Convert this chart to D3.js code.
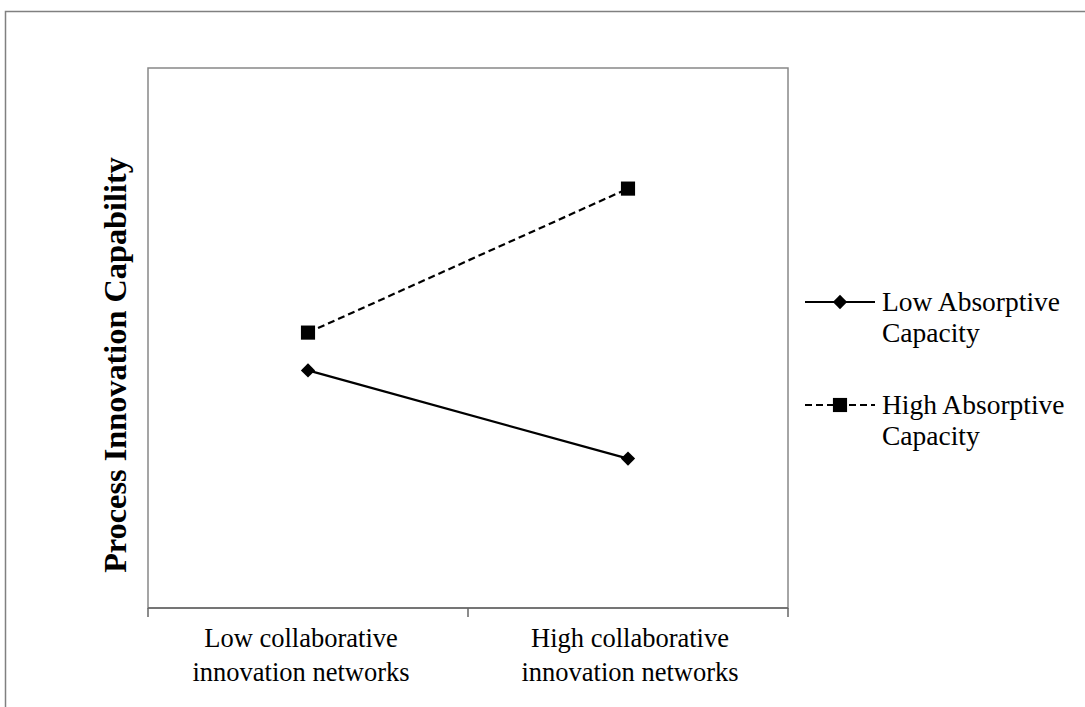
<!DOCTYPE html>
<html>
<head>
<meta charset="utf-8">
<script src="https://cdn.jsdelivr.net/npm/d3@7"></script>
<style>
  html, body { margin: 0; padding: 0; background: #fff; }
  svg { display: block; }
  text { font-family: "Liberation Serif", "Times New Roman", serif; fill: #000; }
</style>
</head>
<body>
<div id="chart"></div>
<script>
// categories on the x axis (each label is two lines)
const categories = ["low", "high"];
const categoryLabels = [
    ["Low collaborative", "innovation networks"],
    ["High collaborative", "innovation networks"]
];
// series values (no y ticks in the original, arbitrary units)
const lowAbsorptive = [2.64, 1.66];
const highAbsorptive = [3.06, 4.66];
const seriesNames = [
    ["Low Absorptive", "Capacity"],
    ["High Absorptive", "Capacity"]
];
const yLabel = "Process Innovation Capability";

const W = 1085, H = 707;
const plot = { left: 148, right: 788, top: 68, bottom: 608 };

const svg = d3.select("#chart").append("svg")
    .attr("width", W)
    .attr("height", H);

// outer frame (only left and top are visible in the crop)
svg.append("rect")
    .attr("x", 5.5)
    .attr("y", 11.5)
    .attr("width", W + 10)
    .attr("height", H + 10)
    .attr("fill", "none")
    .attr("stroke", "#808080")
    .attr("stroke-width", 1.5);

const x = d3.scaleBand()
    .domain(categories)
    .range([plot.left, plot.right]);

const y = d3.scaleLinear()
    .domain([0, 6])
    .range([plot.bottom, plot.top]);

// plot area box
svg.append("rect")
    .attr("x", plot.left)
    .attr("y", plot.top)
    .attr("width", plot.right - plot.left)
    .attr("height", plot.bottom - plot.top)
    .attr("fill", "none")
    .attr("stroke", "#888")
    .attr("stroke-width", 1.5);

// x axis with ticks on band edges
const xAxisG = svg.append("g")
    .attr("transform", "translate(0," + plot.bottom + ")");
xAxisG.append("line")
    .attr("x1", plot.left)
    .attr("x2", plot.right)
    .attr("stroke", "#666")
    .attr("stroke-width", 1.5);
const edges = categories.map(c => x(c)).concat([x(categories[categories.length - 1]) + x.bandwidth()]);
xAxisG.selectAll("line.tick")
    .data(edges)
    .enter()
    .append("line")
    .attr("class", "tick")
    .attr("x1", d => d)
    .attr("x2", d => d)
    .attr("y1", 0)
    .attr("y2", 9)
    .attr("stroke", "#666")
    .attr("stroke-width", 1.5);

// excel wraps the labels a little off the band centre
const labelShift = [-7, 2];
xAxisG.selectAll("text.cat")
    .data(categories)
    .enter()
    .append("text")
    .attr("class", "cat")
    .attr("y", 39)
    .attr("text-anchor", "middle")
    .style("font-size", "26.5px")
    .each(function(d, i) {
        const t = d3.select(this);
        const cx = x(d) + x.bandwidth() / 2 + labelShift[i];
        categoryLabels[i].forEach((line, j) => {
            t.append("tspan")
                .attr("x", cx)
                .attr("dy", j === 0 ? 0 : 34)
                .text(line);
        });
    });

// y axis title
svg.append("text")
    .attr("transform", "translate(126,365) rotate(-90)")
    .attr("text-anchor", "middle")
    .style("font-size", "32.3px")
    .style("font-weight", "bold")
    .text(yLabel);

const line = d3.line()
    .x((d, i) => x(categories[i]) + x.bandwidth() / 2)
    .y(d => y(d));

const diamond = d3.symbol().type(d3.symbolDiamond2).size(130);
const square = d3.symbol().type(d3.symbolSquare).size(200);

// low absorptive: solid line, diamond markers
svg.append("path")
    .datum(lowAbsorptive)
    .attr("d", line)
    .attr("fill", "none")
    .attr("stroke", "#000")
    .attr("stroke-width", 2.2);
svg.selectAll("path.low")
    .data(lowAbsorptive)
    .enter()
    .append("path")
    .attr("class", "low")
    .attr("transform", (d, i) => "translate(" + (x(categories[i]) + x.bandwidth() / 2) + "," + y(d) + ")")
    .attr("d", diamond)
    .attr("fill", "#000");

// high absorptive: dashed line, square markers
svg.append("path")
    .datum(highAbsorptive)
    .attr("d", line)
    .attr("fill", "none")
    .attr("stroke", "#000")
    .attr("stroke-width", 2.2)
    .attr("stroke-dasharray", "7,4");
svg.selectAll("path.high")
    .data(highAbsorptive)
    .enter()
    .append("path")
    .attr("class", "high")
    .attr("transform", (d, i) => "translate(" + (x(categories[i]) + x.bandwidth() / 2) + "," + y(d) + ")")
    .attr("d", square)
    .attr("fill", "#000");

// legend
const legend = svg.append("g").attr("transform", "translate(805,302)");
const items = legend.selectAll("g")
    .data(seriesNames)
    .enter()
    .append("g")
    .attr("transform", (d, i) => "translate(0," + i * 103 + ")");
items.append("line")
    .attr("x1", 0)
    .attr("x2", 70)
    .attr("stroke", "#000")
    .attr("stroke-width", 2.2)
    .attr("stroke-dasharray", (d, i) => i === 0 ? null : "7,4");
items.append("path")
    .attr("transform", "translate(35,0)")
    .attr("d", (d, i) => i === 0 ? diamond() : square())
    .attr("fill", "#000");
items.append("text")
    .attr("x", 77)
    .attr("y", 9)
    .style("font-size", "27.5px")
    .each(function(d) {
        const t = d3.select(this);
        d.forEach((s, j) => {
            t.append("tspan")
                .attr("x", 77)
                .attr("dy", j === 0 ? 0 : 31)
                .text(s);
        });
    });
</script>
</body>
</html>
